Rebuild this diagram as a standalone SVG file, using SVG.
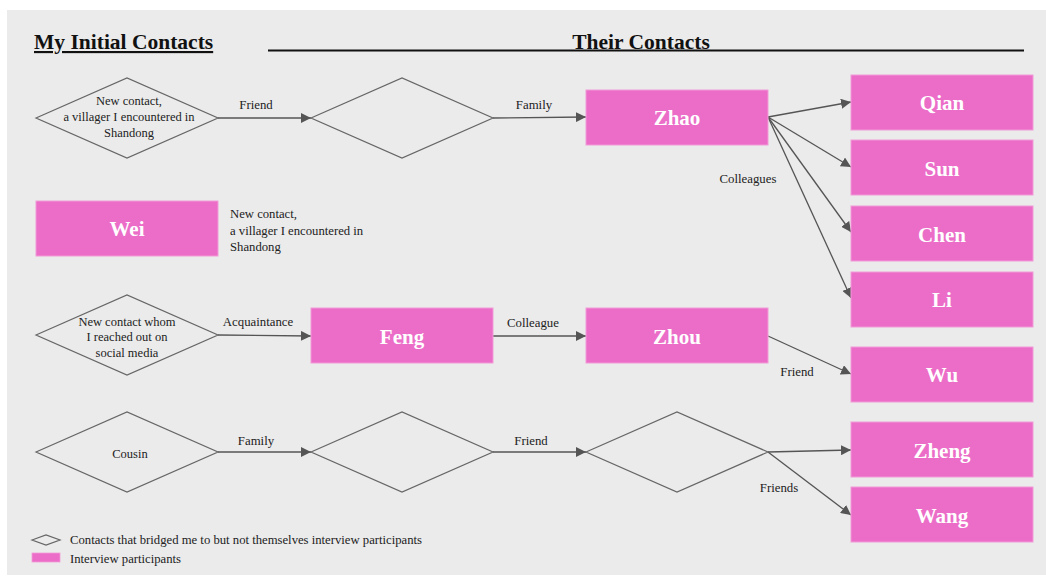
<svg xmlns="http://www.w3.org/2000/svg" width="1046" height="578" viewBox="0 0 1046 578">
<defs>
<marker id="ah" viewBox="0 0 10 10" refX="10" refY="5" markerWidth="10" markerHeight="10" markerUnits="userSpaceOnUse" orient="auto">
<path d="M0,0 L10,5 L0,10 z" fill="#555"/>
</marker>
<style>
.bg{fill:#ebebeb}
.dia{fill:none;stroke:#666;stroke-width:1.2}
.box{fill:#eb6dc8;stroke:#f29bd8;stroke-width:1}
.name{font-family:"Liberation Serif",serif;font-weight:bold;font-size:21px;fill:#fff;text-anchor:middle}
.dt{font-family:"Liberation Serif",serif;font-size:12.5px;fill:#222;text-anchor:middle}
.lbl{font-family:"Liberation Serif",serif;font-size:12.8px;fill:#222;text-anchor:middle}
.note{font-family:"Liberation Serif",serif;font-size:12.7px;fill:#222}
.title{font-family:"Liberation Serif",serif;font-weight:bold;font-size:21.5px;fill:#111}
.edge{stroke:#555;stroke-width:1.3;fill:none;marker-end:url(#ah)}
</style>
</defs>
<rect class="bg" x="7" y="10" width="1039" height="565"/>

<g id="titles">
<text class="title" x="34" y="49" text-decoration="underline">My Initial Contacts</text>
<line x1="268" y1="50.5" x2="1024" y2="50.5" stroke="#111" stroke-width="2"/>
<text class="title" x="641" y="49" text-anchor="middle">Their Contacts</text>
</g>

<g id="connectors">
<line class="edge" x1="218" y1="118" x2="311" y2="118"/>
<line class="edge" x1="493" y1="118" x2="586" y2="117"/>
<line class="edge" x1="768" y1="117" x2="851" y2="102"/>
<line class="edge" x1="768" y1="117" x2="851" y2="167"/>
<line class="edge" x1="768" y1="117" x2="851" y2="232"/>
<line class="edge" x1="768" y1="117" x2="851" y2="298"/>
<line class="edge" x1="218" y1="335" x2="311" y2="336"/>
<line class="edge" x1="493" y1="336" x2="586" y2="336"/>
<line class="edge" x1="768" y1="336" x2="851" y2="374"/>
<line class="edge" x1="218" y1="452" x2="311" y2="452"/>
<line class="edge" x1="493" y1="452" x2="586" y2="452"/>
<line class="edge" x1="768" y1="452" x2="851" y2="450"/>
<line class="edge" x1="768" y1="452" x2="851" y2="515"/>
<text class="lbl" x="256" y="109">Friend</text>
<text class="lbl" x="534" y="109">Family</text>
<text class="lbl" x="748" y="183">Colleagues</text>
<text class="lbl" x="258" y="326">Acquaintance</text>
<text class="lbl" x="533" y="327">Colleague</text>
<text class="lbl" x="797" y="376">Friend</text>
<text class="lbl" x="256" y="445">Family</text>
<text class="lbl" x="531" y="445">Friend</text>
<text class="lbl" x="779" y="492">Friends</text>
</g>

<g id="d1">
<polygon class="dia" points="36,118 127,78 218,118 127,158"/>
<text class="dt" x="129" y="105">New contact,</text>
<text class="dt" x="129" y="121">a villager I encountered in</text>
<text class="dt" x="129" y="137">Shandong</text>
</g>
<g id="d2"><polygon class="dia" points="311,118 402,78 493,118 402,158"/></g>
<g id="zhao"><rect class="box" x="586" y="90" width="182" height="55"/><text class="name" x="677" y="125">Zhao</text></g>
<g id="qian"><rect class="box" x="851" y="75" width="182" height="55"/><text class="name" x="942" y="110">Qian</text></g>
<g id="sun"><rect class="box" x="851" y="140" width="182" height="55"/><text class="name" x="942" y="176">Sun</text></g>
<g id="chen"><rect class="box" x="851" y="206" width="182" height="55"/><text class="name" x="942" y="242">Chen</text></g>
<g id="li"><rect class="box" x="851" y="272" width="182" height="55"/><text class="name" x="942" y="307">Li</text></g>

<g id="wei">
<rect class="box" x="36" y="201" width="182" height="55"/><text class="name" x="127" y="236">Wei</text>
<text class="note" x="230" y="218">New contact,</text>
<text class="note" x="230" y="235">a villager I encountered in</text>
<text class="note" x="230" y="251">Shandong</text>
</g>

<g id="d3">
<polygon class="dia" points="36,335 127,295 218,335 127,375"/>
<text class="dt" x="127" y="326">New contact whom</text>
<text class="dt" x="127" y="341">I reached out on</text>
<text class="dt" x="127" y="357">social media</text>
</g>
<g id="feng"><rect class="box" x="311" y="308" width="182" height="55"/><text class="name" x="402" y="344">Feng</text></g>
<g id="zhou"><rect class="box" x="586" y="308" width="182" height="55"/><text class="name" x="677" y="344">Zhou</text></g>
<g id="wu"><rect class="box" x="851" y="347" width="182" height="55"/><text class="name" x="942" y="382">Wu</text></g>

<g id="cousin">
<polygon class="dia" points="36,452 127,412 218,452 127,492"/>
<text class="dt" x="130" y="458">Cousin</text>
</g>
<g id="d4"><polygon class="dia" points="311,452 402,412 493,452 402,492"/></g>
<g id="d5"><polygon class="dia" points="586,452 677,412 768,452 677,492"/></g>
<g id="zheng"><rect class="box" x="851" y="422" width="182" height="55"/><text class="name" x="942" y="458">Zheng</text></g>
<g id="wang"><rect class="box" x="851" y="487" width="182" height="55"/><text class="name" x="942" y="523">Wang</text></g>

<g id="legend">
<polygon class="dia" points="32,540 46,535 60,540 46,545"/>
<text class="note" x="70" y="544">Contacts that bridged me to but not themselves interview participants</text>
<rect x="32" y="553" width="28" height="9" fill="#eb6dc8" stroke="#f29bd8" stroke-width="0.8"/>
<text class="note" x="70" y="563">Interview participants</text>
</g>
</svg>
